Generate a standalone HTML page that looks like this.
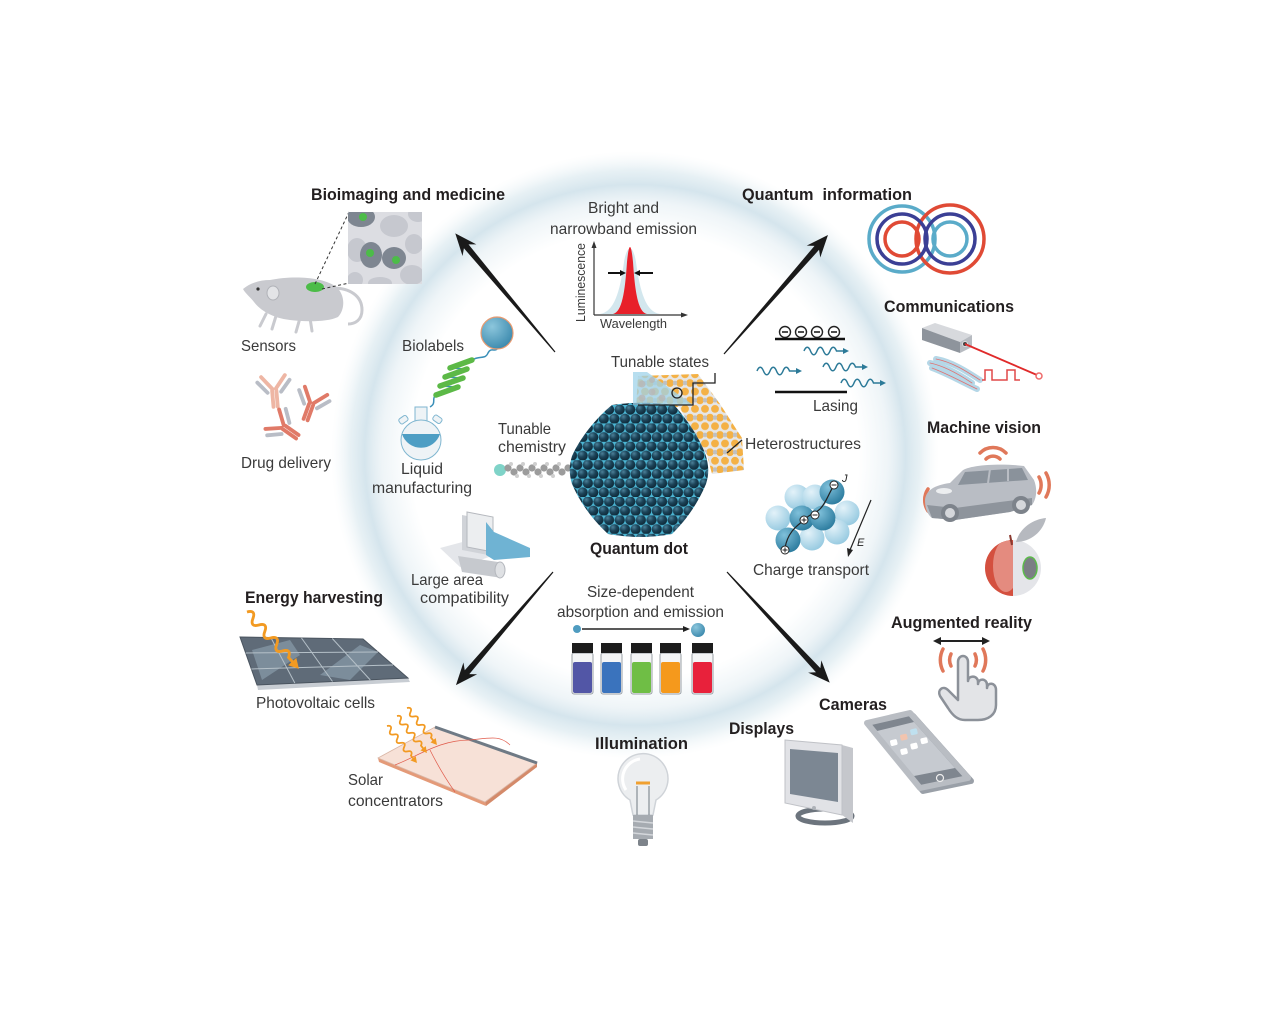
<!DOCTYPE html>
<html><head><meta charset="utf-8">
<style>
html,body{margin:0;padding:0;background:#fff;width:1282px;height:1010px;overflow:hidden}
svg{display:block}
.t{font-family:"Liberation Sans",sans-serif;font-weight:bold;font-size:17px;fill:#231f20}
.l{font-family:"Liberation Sans",sans-serif;font-size:16px;fill:#3a3a3a}
.s{font-family:"Liberation Sans",sans-serif;font-size:13px;fill:#3a3a3a}
</style></head><body>
<svg width="1282" height="1010" viewBox="0 0 1282 1010" xmlns="http://www.w3.org/2000/svg" xmlns:xlink="http://www.w3.org/1999/xlink">
<defs>
<radialGradient id="ring" cx="635" cy="455" r="320" gradientUnits="userSpaceOnUse">
 <stop offset="0.70" stop-color="#e6f0f4" stop-opacity="0"/>
 <stop offset="0.79" stop-color="#e4eef3" stop-opacity="0.6"/>
 <stop offset="0.845" stop-color="#d5e5ed" stop-opacity="1"/>
 <stop offset="0.89" stop-color="#e1edf2" stop-opacity="0.8"/>
 <stop offset="0.95" stop-color="#f2f7f9" stop-opacity="0"/>
</radialGradient>
<radialGradient id="sph" cx="0.35" cy="0.3" r="0.7"><stop offset="0" stop-color="#4d8199"/><stop offset="0.5" stop-color="#1c4459"/><stop offset="1" stop-color="#0f2a39"/></radialGradient>
<radialGradient id="lb" cx="0.35" cy="0.3" r="0.75"><stop offset="0" stop-color="#e3f2f9"/><stop offset="1" stop-color="#95c9e0"/></radialGradient>
<radialGradient id="db" cx="0.35" cy="0.3" r="0.75"><stop offset="0" stop-color="#7fc0da"/><stop offset="1" stop-color="#2b7b9e"/></radialGradient>
<radialGradient id="bs" cx="0.35" cy="0.3" r="0.75"><stop offset="0" stop-color="#8cc6dc"/><stop offset="1" stop-color="#3b89ad"/></radialGradient>
<pattern id="qd" patternUnits="userSpaceOnUse" x="572" y="405" width="10.6" height="18.4">
 <rect width="10.6" height="18.4" fill="#4cb6d4"/>
 <circle cx="5.3" cy="4.6" r="5.1" fill="url(#sph)"/>
 <circle cx="0" cy="13.8" r="5.1" fill="url(#sph)"/>
 <circle cx="10.6" cy="13.8" r="5.1" fill="url(#sph)"/>
</pattern>
<pattern id="orp" patternUnits="userSpaceOnUse" x="630" y="370" width="10" height="17.3">
 <rect width="10" height="17.3" fill="#e2e2e2"/>
 <circle cx="5" cy="4.3" r="3.9" fill="#f2a324"/>
 <circle cx="0" cy="13" r="3.9" fill="#f2a324"/>
 <circle cx="10" cy="13" r="3.9" fill="#f2a324"/>
 <circle cx="5" cy="13" r="2.2" fill="#b5b5b5"/>
</pattern>
<clipPath id="tis"><rect x="348" y="212" width="74" height="72"/></clipPath>
<clipPath id="appc"><circle cx="1013" cy="568" r="28"/></clipPath>
<g id="abS" stroke-linecap="round" fill="none" stroke-width="4.5">
 <line x1="-2.5" y1="3" x2="-2.5" y2="22" stroke="#e07a68"/>
 <line x1="2.5" y1="3" x2="2.5" y2="22" stroke="#e07a68"/>
 <line x1="-2" y1="1" x2="-14" y2="-14" stroke="#e07a68"/>
 <line x1="2" y1="1" x2="14" y2="-14" stroke="#e07a68"/>
 <line x1="-8" y1="5" x2="-19" y2="-8" stroke="#b9bdc6"/>
 <line x1="8" y1="5" x2="19" y2="-8" stroke="#b9bdc6"/>
</g>
<g id="abP" stroke-linecap="round" fill="none" stroke-width="4.5">
 <line x1="-2.5" y1="3" x2="-2.5" y2="22" stroke="#eeb6a4"/>
 <line x1="2.5" y1="3" x2="2.5" y2="22" stroke="#eeb6a4"/>
 <line x1="-2" y1="1" x2="-14" y2="-14" stroke="#eeb6a4"/>
 <line x1="2" y1="1" x2="14" y2="-14" stroke="#eeb6a4"/>
 <line x1="-8" y1="5" x2="-19" y2="-8" stroke="#b9bdc6"/>
 <line x1="8" y1="5" x2="19" y2="-8" stroke="#b9bdc6"/>
</g>
<g id="ow">
 <path d="M0,0 c2.5,-5 5.5,-5 8,0 s5.5,5 8,0 s5.5,-5 8,0 s5.5,5 8,0 s5.5,-5 8,0 s5.5,5 8,0 s5.5,-5 8,0 l6,0" stroke="#f29a22" stroke-width="2.6" fill="none"/>
 <polygon points="70,0 61,-5 61,5" fill="#f29a22"/>
</g>
<g id="lw">
 <path d="M0,0 c2,-5 4.5,-5 6.5,0 s4.5,5 6.5,0 s4.5,-5 6.5,0 s4.5,5 6.5,0 s4.5,-5 6.5,0 l9,0" stroke="#2c7a98" fill="none" stroke-width="1.5"/>
 <polygon points="45,0 39,-3 39,3" fill="#2c7a98"/>
</g>
</defs>

<rect width="1282" height="1010" fill="#fff"/>
<circle cx="635" cy="455" r="320" fill="url(#ring)"/>

<!-- Arrows -->
<g fill="#1a1a1a">
<polygon transform="translate(555,352) rotate(-130.04)" points="0,-0.6 138,-3 133,-9 155,0 133,9 138,3 0,0.6"/>
<polygon transform="translate(724,354) rotate(-48.85)" points="0,-0.6 141,-3 136,-9 158,0 136,9 141,3 0,0.6"/>
<polygon transform="translate(553,572) rotate(130.64)" points="0,-0.6 132,-3 127,-9 149,0 127,9 132,3 0,0.6"/>
<polygon transform="translate(727,572) rotate(47.14)" points="0,-0.6 134,-3 129,-9 151,0 129,9 134,3 0,0.6"/>
</g>

<!-- Titles -->
<text class="t" x="311" y="200" textLength="194" lengthAdjust="spacingAndGlyphs">Bioimaging and medicine</text>
<text class="t" x="742" y="200" textLength="170" lengthAdjust="spacingAndGlyphs" style="white-space:pre">Quantum  information</text>
<text class="t" x="884" y="312" textLength="130" lengthAdjust="spacingAndGlyphs">Communications</text>
<text class="t" x="927" y="433" textLength="114" lengthAdjust="spacingAndGlyphs">Machine vision</text>
<text class="t" x="891" y="628" textLength="141" lengthAdjust="spacingAndGlyphs">Augmented reality</text>
<text class="t" x="819" y="710" textLength="68" lengthAdjust="spacingAndGlyphs">Cameras</text>
<text class="t" x="729" y="734" textLength="65" lengthAdjust="spacingAndGlyphs">Displays</text>
<text class="t" x="595" y="749" textLength="93" lengthAdjust="spacingAndGlyphs">Illumination</text>
<text class="t" x="245" y="603" textLength="138" lengthAdjust="spacingAndGlyphs">Energy harvesting</text>
<text class="t" x="590" y="554" textLength="98" lengthAdjust="spacingAndGlyphs">Quantum dot</text>

<!-- Labels -->
<text class="l" x="241" y="351" textLength="55" lengthAdjust="spacingAndGlyphs">Sensors</text>
<text class="l" x="241" y="468" textLength="90" lengthAdjust="spacingAndGlyphs">Drug delivery</text>
<text class="l" x="402" y="351" textLength="62" lengthAdjust="spacingAndGlyphs">Biolabels</text>
<text class="l" x="401" y="474" textLength="42" lengthAdjust="spacingAndGlyphs">Liquid</text>
<text class="l" x="372" y="493" textLength="100" lengthAdjust="spacingAndGlyphs">manufacturing</text>
<text class="l" x="498" y="434" textLength="53" lengthAdjust="spacingAndGlyphs">Tunable</text>
<text class="l" x="498" y="452" textLength="68" lengthAdjust="spacingAndGlyphs">chemistry</text>
<text class="l" x="611" y="367" textLength="98" lengthAdjust="spacingAndGlyphs">Tunable states</text>
<text class="l" x="588" y="213" textLength="71" lengthAdjust="spacingAndGlyphs">Bright and</text>
<text class="l" x="550" y="234" textLength="147" lengthAdjust="spacingAndGlyphs">narrowband emission</text>
<text class="s" x="600" y="328" textLength="67" lengthAdjust="spacingAndGlyphs">Wavelength</text>
<text class="s" transform="translate(585,322) rotate(-90)" textLength="79" lengthAdjust="spacingAndGlyphs">Luminescence</text>
<text class="l" x="813" y="411" textLength="45" lengthAdjust="spacingAndGlyphs">Lasing</text>
<text class="l" x="745" y="449" textLength="116" lengthAdjust="spacingAndGlyphs">Heterostructures</text>
<text class="l" x="753" y="575" textLength="116" lengthAdjust="spacingAndGlyphs">Charge transport</text>
<text class="l" x="587" y="597" textLength="107" lengthAdjust="spacingAndGlyphs">Size-dependent</text>
<text class="l" x="557" y="617" textLength="167" lengthAdjust="spacingAndGlyphs">absorption and emission</text>
<text class="l" x="411" y="585" textLength="72" lengthAdjust="spacingAndGlyphs">Large area</text>
<text class="l" x="420" y="603" textLength="89" lengthAdjust="spacingAndGlyphs">compatibility</text>
<text class="l" x="256" y="708" textLength="119" lengthAdjust="spacingAndGlyphs">Photovoltaic cells</text>
<text class="l" x="348" y="785" textLength="35" lengthAdjust="spacingAndGlyphs">Solar</text>
<text class="l" x="348" y="806" textLength="95" lengthAdjust="spacingAndGlyphs">concentrators</text>

<!-- Spectrum -->
<path d="M600,314 C614,312 620,292 624,262 C627,244 633,244 636,262 C640,292 646,312 660,314 Z" fill="#d3e7ee"/>
<path d="M613,314 C622,312 625,292 627,262 C629,242 631,242 633,262 C635,292 638,312 647,314 Z" fill="#e8202a"/>
<g stroke="#333" stroke-width="1.2" fill="none"><line x1="594" y1="246" x2="594" y2="315"/><line x1="594" y1="315" x2="684" y2="315"/></g>
<polygon points="594,241 591.5,248 596.5,248" fill="#333"/>
<polygon points="688,315 681,312.5 681,317.5" fill="#333"/>
<g stroke="#111" stroke-width="2"><line x1="608" y1="273" x2="622" y2="273"/><line x1="638" y1="273" x2="653" y2="273"/></g>
<polygon points="626,273 620,270 620,276" fill="#111"/><polygon points="634,273 640,270 640,276" fill="#111"/>

<!-- Orange shell -->
<path d="M638,376 L698,374 L720,404 L742,438 L744,470 L712,474 L707,455 L679,407 L636,407 Z" fill="url(#orp)" opacity="0.85"/>
<!-- Ligand -->
<g>
<circle cx="500" cy="470" r="6" fill="#7fd3c8"/>
<g fill="#9c9c9c">
<circle cx="508" cy="468" r="3.6"/><circle cx="514" cy="472" r="3.6"/><circle cx="520" cy="468" r="3.6"/><circle cx="526" cy="472" r="3.6"/><circle cx="532" cy="468" r="3.6"/><circle cx="538" cy="472" r="3.6"/><circle cx="544" cy="468" r="3.6"/><circle cx="550" cy="472" r="3.6"/><circle cx="556" cy="468" r="3.6"/><circle cx="562" cy="472" r="3.6"/><circle cx="568" cy="468" r="3.6"/>
</g>
<g fill="#cfcfcf"><circle cx="511" cy="464" r="2"/><circle cx="523" cy="464" r="2"/><circle cx="535" cy="464" r="2"/><circle cx="547" cy="464" r="2"/><circle cx="559" cy="464" r="2"/><circle cx="517" cy="476" r="2"/><circle cx="529" cy="476" r="2"/><circle cx="541" cy="476" r="2"/><circle cx="553" cy="476" r="2"/></g>
<circle cx="575" cy="465" r="4" fill="#c8323a"/>
</g>
<!-- QD core -->
<path d="M612,405 C630,402 655,402 674,405 C686,418 700,438 706,456 C709,468 709,474 706,484 C697,505 686,520 672,534 C650,538 630,538 608,534 C593,520 580,503 572,484 C569,474 569,466 572,456 C580,438 596,418 612,405 Z" fill="url(#qd)"/>
<!-- Tunable states inset -->
<polygon points="633,372 647,372 693,405 633,405" fill="#9fd3ea" opacity="0.75"/>
<g fill="#b8b8b8" opacity="0.8"><circle cx="642" cy="384" r="3.5"/><circle cx="652" cy="392" r="3.5"/><circle cx="642" cy="398" r="3.5"/><circle cx="662" cy="398" r="3.5"/><circle cx="652" cy="380" r="3"/></g>
<g stroke="#222" stroke-width="1.3" fill="none">
<polyline points="638,405 693,405 693,383 715,383 715,373"/>
<circle cx="677" cy="393" r="5"/>
<line x1="727" y1="453" x2="742" y2="440"/>
</g>

<!-- Quantum info rings -->
<g fill="none" stroke-width="3.5">
<circle cx="902" cy="239" r="33" stroke="#5aabc9"/>
<circle cx="950" cy="239" r="34" stroke="#e04a35"/>
<circle cx="902" cy="239" r="25" stroke="#3b3f95"/>
<circle cx="950" cy="239" r="25" stroke="#3b3f95"/>
<circle cx="902" cy="239" r="17" stroke="#e04a35"/>
<circle cx="950" cy="239" r="17" stroke="#5aabc9"/>
</g>

<!-- Communications -->
<polygon points="922,328 935,323 972,335 960,342" fill="#d7d9dd"/>
<polygon points="922,328 960,342 960,353 922,340" fill="#8e949c"/>
<polygon points="960,342 972,335 972,347 960,353" fill="#b7bbc1"/>
<circle cx="965" cy="344" r="2.5" fill="#444" stroke="#ddd" stroke-width="1"/>
<line x1="965" y1="344" x2="1037" y2="375" stroke="#e02a2a" stroke-width="1.8"/>
<circle cx="1039" cy="376" r="3" fill="none" stroke="#ee6a6a" stroke-width="1.5"/>
<g fill="none" stroke-linecap="round">
<path d="M930,363 C945,366 960,375 972,383" stroke="#b5d7e7" stroke-width="6"/>
<path d="M936,359 C952,362 966,371 980,380" stroke="#b5d7e7" stroke-width="6"/>
<path d="M932,368 C948,374 962,382 977,389" stroke="#b5d7e7" stroke-width="6"/>
<path d="M930,363 C945,366 960,375 972,383" stroke="#e07070" stroke-width="0.8"/>
<path d="M936,359 C952,362 966,371 980,380" stroke="#e07070" stroke-width="0.8"/>
<path d="M932,368 C948,374 962,382 977,389" stroke="#e07070" stroke-width="0.8"/>
</g>
<polyline points="982,380 985,380 985,370 992,370 992,380 1007,380 1007,370 1015,370 1015,380 1020,380" fill="none" stroke="#e04848" stroke-width="1.5"/>

<!-- Lasing -->
<g stroke="#222" fill="#fff" stroke-width="1.4">
<circle cx="785" cy="332" r="5.5"/><circle cx="801" cy="332" r="5.5"/><circle cx="817" cy="332" r="5.5"/><circle cx="834" cy="332" r="5.5"/>
</g>
<g stroke="#222" stroke-width="1.6"><line x1="782" y1="332" x2="788" y2="332"/><line x1="798" y1="332" x2="804" y2="332"/><line x1="814" y1="332" x2="820" y2="332"/><line x1="831" y1="332" x2="837" y2="332"/></g>
<g stroke="#111" stroke-width="2.6"><line x1="775" y1="339" x2="845" y2="339"/><line x1="775" y1="392" x2="847" y2="392"/></g>
<use xlink:href="#lw" href="#lw" transform="translate(757,371)"/>
<use xlink:href="#lw" href="#lw" transform="translate(804,351)"/>
<use xlink:href="#lw" href="#lw" transform="translate(823,367)"/>
<use xlink:href="#lw" href="#lw" transform="translate(841,383)"/>

<!-- Charge transport -->
<g>
<circle cx="778" cy="518" r="12.5" fill="url(#lb)"/>
<circle cx="797" cy="497" r="12.5" fill="url(#lb)"/>
<circle cx="815" cy="497" r="12.5" fill="url(#lb)"/>
<circle cx="847" cy="513" r="12.5" fill="url(#lb)"/>
<circle cx="812" cy="538" r="12.5" fill="url(#lb)"/>
<circle cx="837" cy="532" r="12.5" fill="url(#lb)"/>
<circle cx="832" cy="492" r="12.5" fill="url(#db)"/>
<circle cx="802" cy="518" r="12.5" fill="url(#db)"/>
<circle cx="823" cy="518" r="12.5" fill="url(#db)"/>
<circle cx="788" cy="540" r="12.5" fill="url(#db)"/>
<path d="M785,548 C788,530 800,524 804,520 C812,512 815,514 820,509 C826,503 828,495 833,487" fill="none" stroke="#222" stroke-width="1.2"/>
<g fill="#fff" stroke="#222" stroke-width="1"><circle cx="785" cy="550" r="4"/><circle cx="804" cy="520" r="4"/><circle cx="815" cy="515" r="4"/><circle cx="834" cy="485" r="4"/></g>
<g stroke="#222" stroke-width="1"><line x1="782.5" y1="550" x2="787.5" y2="550"/><line x1="785" y1="547.5" x2="785" y2="552.5"/><line x1="801.5" y1="520" x2="806.5" y2="520"/><line x1="804" y1="517.5" x2="804" y2="522.5"/><line x1="812.5" y1="515" x2="817.5" y2="515"/><line x1="831.5" y1="485" x2="836.5" y2="485"/></g>
<line x1="871" y1="500" x2="850" y2="550" stroke="#222" stroke-width="1.2"/>
<polygon points="848,557 847,548 853,550" fill="#222"/>
<text x="842" y="482" font-family="Liberation Sans,sans-serif" font-style="italic" font-size="11" fill="#222">J</text>
<text x="857" y="546" font-family="Liberation Sans,sans-serif" font-style="italic" font-size="11" fill="#222">E</text>
</g>

<!-- Vials -->
<circle cx="577" cy="629" r="4" fill="#4f9cc0"/>
<line x1="582" y1="629" x2="686" y2="629" stroke="#222" stroke-width="1.5"/>
<polygon points="690,629 683,626 683,632" fill="#222"/>
<circle cx="698" cy="630" r="7" fill="url(#bs)"/>
<g>
<rect x="572" y="653" width="21" height="41" rx="2" fill="#f4f5f6" stroke="#9aa0a6"/><rect x="573" y="662" width="19" height="31" rx="2" fill="#5256a6"/><rect x="572" y="643" width="21" height="10" fill="#1c1c1c"/>
<rect x="601" y="653" width="21" height="41" rx="2" fill="#f4f5f6" stroke="#9aa0a6"/><rect x="602" y="662" width="19" height="31" rx="2" fill="#3a73bd"/><rect x="601" y="643" width="21" height="10" fill="#1c1c1c"/>
<rect x="631" y="653" width="21" height="41" rx="2" fill="#f4f5f6" stroke="#9aa0a6"/><rect x="632" y="662" width="19" height="31" rx="2" fill="#6fbe45"/><rect x="631" y="643" width="21" height="10" fill="#1c1c1c"/>
<rect x="660" y="653" width="21" height="41" rx="2" fill="#f4f5f6" stroke="#9aa0a6"/><rect x="661" y="662" width="19" height="31" rx="2" fill="#f5991c"/><rect x="660" y="643" width="21" height="10" fill="#1c1c1c"/>
<rect x="692" y="653" width="21" height="41" rx="2" fill="#f4f5f6" stroke="#9aa0a6"/><rect x="693" y="662" width="19" height="31" rx="2" fill="#e8213b"/><rect x="692" y="643" width="21" height="10" fill="#1c1c1c"/>
</g>

<!-- Bioimaging: mouse -->
<path d="M333,288 C350,288 362,296 362,310 C362,320 355,324 348,324" stroke="#c9cacf" stroke-width="3" fill="none"/>
<path d="M243,289 C250,283 260,280 270,280 C290,276 320,276 335,286 C346,294 345,310 338,317 C328,322 305,322 290,320 C272,318 260,310 254,302 C250,297 245,293 243,289 Z" fill="#c9cacf"/>
<g stroke="#c9cacf" stroke-width="3" stroke-linecap="round"><line x1="266" y1="314" x2="260" y2="326"/><line x1="276" y1="316" x2="272" y2="329"/><line x1="300" y1="318" x2="296" y2="332"/><line x1="310" y1="318" x2="312" y2="331"/></g>
<ellipse cx="273" cy="293" rx="6" ry="7" fill="#e3e4e7" stroke="#b0b2b8"/>
<circle cx="258" cy="289" r="1.6" fill="#333"/>
<ellipse cx="315" cy="287" rx="9" ry="5" fill="#4cbc48"/>
<g stroke="#333" stroke-width="1" stroke-dasharray="3,2.5" fill="none"><line x1="315" y1="284" x2="349" y2="212"/><line x1="322" y1="289" x2="349" y2="283"/></g>
<g clip-path="url(#tis)">
<rect x="348" y="212" width="74" height="72" fill="#dcdde2"/>
<g fill="#c6c8cf">
<ellipse cx="394" cy="226" rx="14" ry="11"/><ellipse cx="357" cy="250" rx="10" ry="12"/><ellipse cx="414" cy="244" rx="9" ry="10"/><ellipse cx="412" cy="275" rx="12" ry="10"/><ellipse cx="380" cy="283" rx="12" ry="6"/><ellipse cx="418" cy="214" rx="10" ry="8"/><ellipse cx="355" cy="280" rx="8" ry="8"/>
</g>
<g fill="#7e8691"><ellipse cx="361" cy="217" rx="14" ry="10"/><ellipse cx="371" cy="255" rx="11" ry="13"/><ellipse cx="394" cy="258" rx="12" ry="11"/></g>
<g fill="#4cbc48"><circle cx="363" cy="217" r="4"/><circle cx="370" cy="253" r="4"/><circle cx="396" cy="260" r="4"/></g>
</g>

<!-- Drug delivery -->
<use xlink:href="#abP" href="#abP" transform="translate(274,388) rotate(-5) scale(0.85)"/>
<use xlink:href="#abS" href="#abS" transform="translate(312,402) rotate(20) scale(0.85)"/>
<use xlink:href="#abS" href="#abS" transform="translate(282,426) rotate(-55) scale(0.85)"/>

<!-- Biolabels -->
<path d="M472,360 C480,355 485,360 488,353 C491,347 495,352 497,349" stroke="#3a8fb8" stroke-width="1.5" fill="none"/>
<polyline points="436,395 458,387 440,386 463,378 445,377 467,369 450,368 472,360" stroke="#3a8fb8" stroke-width="1.5" fill="none"/>
<path d="M436,395 C431,399 437,403 430,407" stroke="#3a8fb8" stroke-width="1.5" fill="none"/>
<g stroke="#5cb947" stroke-width="5.5" stroke-linecap="round">
<line x1="436" y1="395" x2="458" y2="387"/><line x1="440" y1="386" x2="463" y2="378"/><line x1="445" y1="377" x2="467" y2="369"/><line x1="450" y1="368" x2="472" y2="360"/>
</g>
<circle cx="497" cy="333" r="16" fill="url(#bs)" stroke="#e89a70" stroke-width="1.2"/>
<!-- Flask -->
<g>
<rect x="399" y="417" width="9" height="6" rx="2" fill="#eef3f6" stroke="#7fb6d0" transform="rotate(-35 403 420)"/>
<rect x="433" y="416" width="9" height="6" rx="2" fill="#eef3f6" stroke="#7fb6d0" transform="rotate(35 437 419)"/>
<rect x="415" y="407" width="12" height="18" fill="#eef3f6" stroke="#7fb6d0"/>
<circle cx="421" cy="440" r="20" fill="#eef3f6" stroke="#7fb6d0"/>
<path d="M402,434 A20,20 0 0 0 440,434 Z" fill="#4e9ec4"/>
</g>

<!-- Large area -->
<g>
<polygon points="440,548 470,540 492,556 460,567" fill="#e4e6ea"/>
<polygon points="462,515 488,520 488,555 462,550" fill="#d0d3d8"/>
<polygon points="467,512 493,517 493,552 467,547" fill="#eceef0" stroke="#b5b8be"/>
<polygon points="486,522 494,532 530,548 530,557 494,560 486,555" fill="#6fb3d3"/>
<polygon points="458,556 498,562 502,578 462,572" fill="#c6c9ce"/>
<ellipse cx="500" cy="570" rx="5" ry="8" fill="#dfe1e4" stroke="#b5b8be"/>
</g>

<!-- PV panel -->
<g>
<polygon points="257,685 408,678 410,682 258,690" fill="#c8cdd3"/>
<polygon points="240,637 363,639 408,678 257,685" fill="#5f6b78" stroke="#4a545f" stroke-width="1"/>
<polygon points="252,650 290,640 300,655 262,680" fill="#8fa3b2" opacity="0.6"/>
<polygon points="320,675 360,645 378,652 350,680" fill="#8fa3b2" opacity="0.6"/>
<g stroke="#b5c0c8" stroke-width="1">
<line x1="270.8" y1="637.5" x2="294.8" y2="683"/><line x1="301.5" y1="638" x2="332.5" y2="681.5"/><line x1="332.3" y1="638.5" x2="370.3" y2="680"/>
<line x1="245.7" y1="653" x2="378" y2="652"/><line x1="251.3" y1="669" x2="393" y2="665"/>
</g>
<use xlink:href="#ow" href="#ow" transform="translate(247,612) rotate(47.6) scale(1.1)"/>
</g>

<!-- Solar concentrator -->
<g>
<polygon points="378,758 485,802 486,806 379,762" fill="#e49a78"/>
<polygon points="485,802 537,763 537,767 486,806" fill="#d48a6a"/>
<polygon points="378,758 435,727 537,763 485,802" fill="#f7e1d7" stroke="#d9b6a6" stroke-width="0.8"/>
<line x1="435" y1="727" x2="537" y2="763" stroke="#6f7a85" stroke-width="3"/>
<g stroke="#e05a4a" stroke-width="0.7" fill="none"><path d="M395,765 C420,755 440,740 470,740 C490,738 500,735 510,745"/><path d="M430,750 C440,770 450,785 455,792"/></g>
<use xlink:href="#ow" href="#ow" transform="translate(407,708) rotate(51) scale(0.68)"/>
<use xlink:href="#ow" href="#ow" transform="translate(397,716) rotate(51) scale(0.68)"/>
<use xlink:href="#ow" href="#ow" transform="translate(387,726) rotate(51) scale(0.68)"/>
</g>

<!-- Bulb -->
<g>
<path d="M630,800 A25,25 0 1 1 656,800 L653,815 L633,815 Z" fill="#eceef0" stroke="#cfd3d8" stroke-width="1.5"/>
<path d="M626,790 A20,20 0 0 1 640,759" fill="none" stroke="#fff" stroke-width="3"/>
<g stroke="#8e959c" stroke-width="1.3"><line x1="637" y1="815" x2="637" y2="786"/><line x1="649" y1="815" x2="649" y2="786"/></g>
<line x1="636" y1="783" x2="650" y2="783" stroke="#f0a030" stroke-width="3"/>
<rect x="633" y="815" width="20" height="24" fill="#a6abb1"/>
<g stroke="#d4d7db" stroke-width="1.5"><line x1="633" y1="821" x2="653" y2="823"/><line x1="633" y1="827" x2="653" y2="829"/><line x1="633" y1="833" x2="653" y2="835"/></g>
<rect x="638" y="839" width="10" height="7" rx="2" fill="#7d838a"/>
</g>

<!-- Monitor -->
<ellipse cx="825" cy="816" rx="27" ry="7" fill="none" stroke="#6c747d" stroke-width="5"/>
<polygon points="842,745 853,748 853,823 842,815" fill="#c5c7cc"/>
<polygon points="785,740 842,745 842,815 785,803" fill="#e1e2e6" stroke="#c0c2c7"/>
<polygon points="790,749 838,753 838,802 790,794" fill="#7c8793"/>
<circle cx="814" cy="808" r="2" fill="#aeb2b8"/>

<!-- Phone -->
<g stroke-linejoin="round">
<polygon points="870,726 913,716 971,781 923,791" fill="#9aa0a8" stroke="#9aa0a8" stroke-width="6"/>
<polygon points="867,723 910,713 968,778 920,788" fill="#7f868f" stroke="#b9bdc3" stroke-width="6"/>
<polygon points="877,731 914,722 955,768 914,776" fill="#c6cad0"/>
<circle cx="940" cy="778" r="3.5" fill="none" stroke="#eee" stroke-width="1.2"/>
<g transform="rotate(-13 905 740)">
<rect x="890" y="737" width="7" height="6" rx="1.5" fill="#fff"/>
<rect x="901" y="734" width="7" height="6" rx="1.5" fill="#f2c4ae"/>
<rect x="912" y="731" width="7" height="6" rx="1.5" fill="#bfe0ef"/>
<rect x="898" y="748" width="7" height="6" rx="1.5" fill="#fff"/>
<rect x="909" y="745" width="7" height="6" rx="1.5" fill="#fff"/>
<rect x="920" y="742" width="7" height="6" rx="1.5" fill="#fff"/>
</g>
</g>

<!-- Car -->
<g>
<g fill="none" stroke="#e0785a" stroke-width="3.5" stroke-linecap="round">
<path d="M928,489 A20,20 0 0 0 928,511"/><path d="M935,494 A12,12 0 0 0 935,506"/>
<path d="M1046,473 A24,24 0 0 1 1046,497"/><path d="M1039,477 A16,16 0 0 1 1039,493"/>
<path d="M980,453 A18,18 0 0 1 1006,453"/><path d="M986,459 A10,10 0 0 1 1000,459"/>
</g>
<path d="M925,500 C926,490 935,485 950,483 L962,471 C968,465 1000,463 1024,466 L1034,480 C1038,490 1036,500 1032,505 L1010,512 L955,520 L932,518 C927,514 925,508 925,500 Z" fill="#b9bdc4"/>
<path d="M965,472 L1022,468 L1028,480 L958,485 Z" fill="#8a929b"/>
<path d="M927,505 L955,508 L1000,502 L1032,498 L1032,505 L1010,512 L955,520 L932,518 Z" fill="#8e949c"/>
<line x1="990" y1="469" x2="988" y2="483" stroke="#b9bdc4" stroke-width="2"/>
<line x1="1008" y1="468" x2="1008" y2="481" stroke="#b9bdc4" stroke-width="2"/>
<ellipse cx="944" cy="491" rx="8" ry="3" fill="#eceef0"/>
<circle cx="950" cy="513" r="9" fill="#7d838b"/><circle cx="950" cy="513" r="5" fill="#d5d7db"/>
<circle cx="1021" cy="505" r="9" fill="#7d838b"/><circle cx="1021" cy="505" r="5" fill="#d5d7db"/>
</g>

<!-- Apple -->
<g>
<g clip-path="url(#appc)">
<rect x="985" y="540" width="28" height="56" fill="#d4503f"/>
<ellipse cx="1006" cy="566" rx="13" ry="26" fill="#e48b7f"/>
<rect x="1013" y="540" width="28" height="56" fill="#e4e5e9"/>
</g>
<ellipse cx="1030" cy="568" rx="7" ry="11" fill="#7b7e84" stroke="#5cbb4a" stroke-width="1.5"/>
<path d="M1016,542 C1020,527 1034,519 1046,518 C1043,532 1030,542 1016,542 Z" fill="#b6b9bf"/>
<line x1="1012" y1="545" x2="1010" y2="535" stroke="#8a3a30" stroke-width="2"/>
</g>

<!-- AR -->
<g>
<line x1="939" y1="641" x2="984" y2="641" stroke="#222" stroke-width="2"/>
<polygon points="933,641 941,637 941,645" fill="#222"/><polygon points="990,641 982,637 982,645" fill="#222"/>
<g fill="none" stroke="#e0785a" stroke-width="3.5" stroke-linecap="round">
<path d="M943,649 A24,24 0 0 0 943,671"/><path d="M951,654 A14,14 0 0 0 951,666"/>
<path d="M983,649 A24,24 0 0 1 983,671"/><path d="M975,654 A14,14 0 0 1 975,666"/>
</g>
<path d="M958,692 L958,662 C958,654 968,654 968,662 L968,681 C968,675 978,675 978,682 L978,684 C978,678 987,678 987,685 L987,688 C987,682 996,682 996,690 L996,705 C996,715 988,720 978,720 L965,720 C958,720 953,716 948,708 L940,696 C937,690 943,685 948,690 L958,700 Z" fill="#e3e4e7" stroke="#8c9199" stroke-width="2.5" stroke-linejoin="round"/>
</g>
</svg>
</body></html>
